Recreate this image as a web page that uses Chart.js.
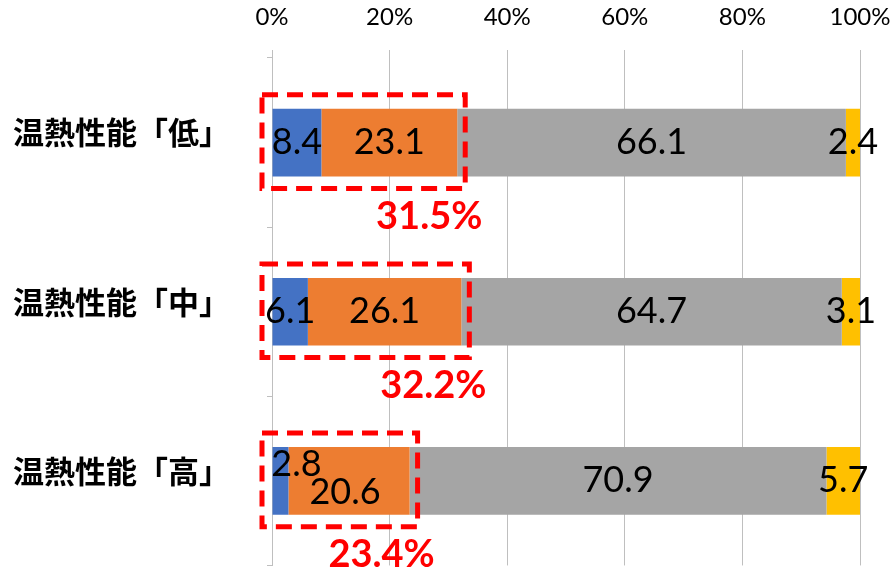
<!DOCTYPE html>
<html>
<head>
<meta charset="utf-8">
<script src="https://cdn.jsdelivr.net/npm/chart.js@4"></script>
<style>
  html, body { margin: 0; padding: 0; background: #fff; overflow: hidden; }
  canvas { display: block; }
</style>
</head>
<body>
<canvas id="chart" width="894" height="567"></canvas>
<script>
'use strict';

const categories = ['温熱性能「低」', '温熱性能「中」', '温熱性能「高」'];
const seriesBlue = [8.4, 6.1, 2.8];
const seriesOrange = [23.1, 26.1, 20.6];
const seriesGray = [66.1, 64.7, 70.9];
const seriesYellow = [2.4, 3.1, 5.7];
const highlightLabels = ['31.5%', '32.2%', '23.4%'];
const xTickStep = 20;

// hand nudges for labels that overlap in the original (dataset-row -> [dx, dy])
const labelNudge = { '0-2': [16, -16], '1-2': [-4, 12] };

const LABEL_FONT = '"Lato", "DejaVu Sans", sans-serif';

const segmentLabels = {
  id: 'segmentLabels',
  afterDatasetsDraw(chart) {
    const ctx = chart.ctx;
    ctx.save();
    ctx.font = '36px ' + LABEL_FONT;
    ctx.fillStyle = '#000';
    ctx.textAlign = 'center';
    ctx.textBaseline = 'middle';
    chart.data.datasets.forEach((ds, di) => {
      const meta = chart.getDatasetMeta(di);
      meta.data.forEach((el, i) => {
        const n = labelNudge[di + '-' + i] || [0, 0];
        const cx = (el.x + el.base) / 2 + n[0];
        ctx.fillText(ds.data[i].toFixed(1), cx, el.y + n[1]);
      });
    });
    ctx.restore();
  },
};

const highlightBoxes = {
  id: 'highlightBoxes',
  afterDatasetsDraw(chart) {
    const ctx = chart.ctx;
    const x = chart.scales.x;
    ctx.save();
    chart.getDatasetMeta(0).data.forEach((el, i) => {
      const sum = seriesBlue[i] + seriesOrange[i];
      const left = x.getPixelForValue(0) - 10;
      const right = x.getPixelForValue(sum) + 8;
      const top = el.y - el.height / 2 - 14;
      const bottom = el.y + el.height / 2 + 12;
      ctx.strokeStyle = '#ff0000';
      ctx.lineWidth = 5;
      ctx.setLineDash([16, 9]);
      ctx.strokeRect(left, top, right - left, bottom - top);
      ctx.setLineDash([]);
      ctx.fillStyle = '#ff0000';
      ctx.font = 'bold 38px ' + LABEL_FONT;
      ctx.textAlign = 'center';
      ctx.textBaseline = 'middle';
      ctx.fillText(highlightLabels[i], right - 36, bottom + 28);
    });
    ctx.restore();
  },
};

new Chart(document.getElementById('chart'), {
  type: 'bar',
  data: {
    labels: categories,
    datasets: [
      { data: seriesBlue, backgroundColor: '#4472c4' },
      { data: seriesOrange, backgroundColor: '#ed7d31' },
      { data: seriesGray, backgroundColor: '#a5a5a5' },
      { data: seriesYellow, backgroundColor: '#ffc000' },
    ],
  },
  options: {
    indexAxis: 'y',
    responsive: false,
    animation: false,
    devicePixelRatio: 1,
    datasets: { bar: { categoryPercentage: 1.0, barPercentage: 0.4, borderWidth: 0 } },
    layout: { padding: { left: 13, right: 34, top: 0, bottom: 0 } },
    plugins: { legend: { display: false }, tooltip: { enabled: false } },
    scales: {
      x: {
        position: 'top',
        stacked: true,
        min: 0,
        max: 100,
        ticks: {
          stepSize: xTickStep,
          callback: (v) => v + '%',
          color: '#000',
          font: { family: LABEL_FONT, size: 24 },
          padding: 18,
        },
        grid: { color: '#bfbfbf', tickLength: 8 },
        border: { display: false },
        afterFit: (s) => {
          s.height = 58;
          s.paddingLeft = 0;
          s.paddingRight = 0;
        },
      },
      y: {
        stacked: true,
        ticks: {
          color: '#000',
          font: { family: '"Noto Sans CJK JP", sans-serif', size: 31, weight: 'bold', lineHeight: 0.1 },
          padding: 0,
          crossAlign: 'far',
          labelOffset: -10,
        },
        grid: { offset: true, drawOnChartArea: false, color: '#bfbfbf', tickLength: 5 },
        border: { display: true, color: '#bfbfbf' },
        afterFit: (s) => { s.width = 259; },
      },
    },
  },
  plugins: [highlightBoxes, segmentLabels],
});
</script>
</body>
</html>
